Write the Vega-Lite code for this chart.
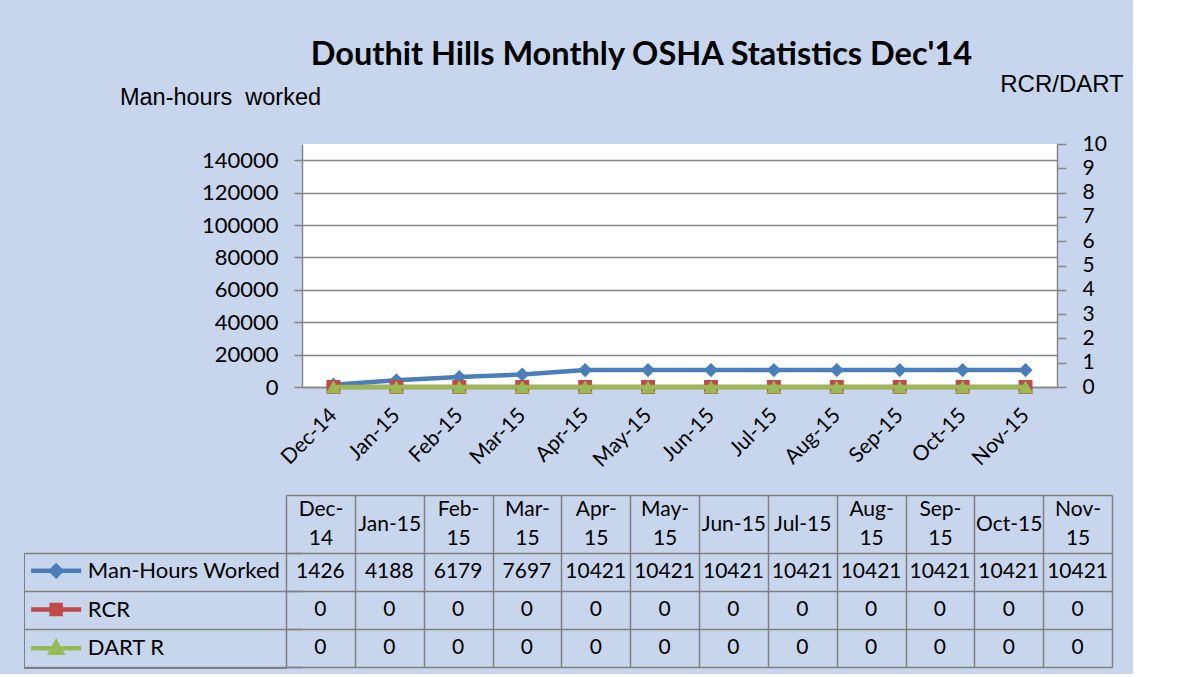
{
  "$schema": "https://vega.github.io/schema/vega-lite/v6.json",
  "background": "#c7d6ec",
  "padding": {"left": 23, "top": 38, "right": 5, "bottom": 5},
  "config": {"font": "Lato", "view": {"stroke": null}},
  "datasets": {
    "osha": [
      {"month": "Dec-14", "series": "Man-Hours Worked", "value": 1426},
      {"month": "Jan-15", "series": "Man-Hours Worked", "value": 4188},
      {"month": "Feb-15", "series": "Man-Hours Worked", "value": 6179},
      {"month": "Mar-15", "series": "Man-Hours Worked", "value": 7697},
      {"month": "Apr-15", "series": "Man-Hours Worked", "value": 10421},
      {"month": "May-15", "series": "Man-Hours Worked", "value": 10421},
      {"month": "Jun-15", "series": "Man-Hours Worked", "value": 10421},
      {"month": "Jul-15", "series": "Man-Hours Worked", "value": 10421},
      {"month": "Aug-15", "series": "Man-Hours Worked", "value": 10421},
      {"month": "Sep-15", "series": "Man-Hours Worked", "value": 10421},
      {"month": "Oct-15", "series": "Man-Hours Worked", "value": 10421},
      {"month": "Nov-15", "series": "Man-Hours Worked", "value": 10421},
      {"month": "Dec-14", "series": "RCR", "value": 0},
      {"month": "Jan-15", "series": "RCR", "value": 0},
      {"month": "Feb-15", "series": "RCR", "value": 0},
      {"month": "Mar-15", "series": "RCR", "value": 0},
      {"month": "Apr-15", "series": "RCR", "value": 0},
      {"month": "May-15", "series": "RCR", "value": 0},
      {"month": "Jun-15", "series": "RCR", "value": 0},
      {"month": "Jul-15", "series": "RCR", "value": 0},
      {"month": "Aug-15", "series": "RCR", "value": 0},
      {"month": "Sep-15", "series": "RCR", "value": 0},
      {"month": "Oct-15", "series": "RCR", "value": 0},
      {"month": "Nov-15", "series": "RCR", "value": 0},
      {"month": "Dec-14", "series": "DART R", "value": 0},
      {"month": "Jan-15", "series": "DART R", "value": 0},
      {"month": "Feb-15", "series": "DART R", "value": 0},
      {"month": "Mar-15", "series": "DART R", "value": 0},
      {"month": "Apr-15", "series": "DART R", "value": 0},
      {"month": "May-15", "series": "DART R", "value": 0},
      {"month": "Jun-15", "series": "DART R", "value": 0},
      {"month": "Jul-15", "series": "DART R", "value": 0},
      {"month": "Aug-15", "series": "DART R", "value": 0},
      {"month": "Sep-15", "series": "DART R", "value": 0},
      {"month": "Oct-15", "series": "DART R", "value": 0},
      {"month": "Nov-15", "series": "DART R", "value": 0}
    ]
  },
  "spacing": 24,
  "resolve": {"legend": {"fill": "independent", "stroke": "independent", "shape": "independent"}},
  "vconcat": [
    {
      "width": 755,
      "height": 243,
      "title": {"text": "Douthit Hills Monthly OSHA Statistics Dec'14", "font": "Lato", "fontSize": 32.5, "fontWeight": "bold", "color": "black", "anchor": "middle", "dx": -38, "offset": 1},
      "view": {"fill": "white", "stroke": null},
      "data": {"name": "osha"},
      "encoding": {
        "x": {
          "field": "month", "type": "ordinal",
          "sort": ["Dec-14","Jan-15","Feb-15","Mar-15","Apr-15","May-15","Jun-15","Jul-15","Aug-15","Sep-15","Oct-15","Nov-15"],
          "scale": {"type": "point", "padding": 0.5},
          "axis": {"orient": "bottom", "title": null, "labelAngle": -45, "labelAlign": "right", "labelBaseline": "middle", "labelFontSize": 21, "labelColor": "black", "labelPadding": 25, "ticks": false, "domainColor": "#868686", "domainWidth": 1.5}
        }
      },
      "layer": [
        {
          "transform": [{"filter": "datum.series === 'Man-Hours Worked'"}],
          "mark": {"type": "line", "color": "#4A7EBB", "strokeWidth": 4.5, "point": {"shape": "diamond", "size": 200, "filled": true, "color": "#4A7EBB"}},
          "encoding": {
            "y": {
              "field": "value", "type": "quantitative",
              "scale": {"domain": [0, 150000], "nice": false},
              "axis": {"orient": "left", "values": [0, 20000, 40000, 60000, 80000, 100000, 120000, 140000], "format": "d",
                "title": "Man-hours\u00a0 worked", "titleAngle": 0, "titleFont": "Liberation Sans", "titleFontSize": 23.5, "titleFontWeight": "normal", "titleColor": "black",
                "titleX": -82, "titleY": -47, "titleAlign": "center", "titleBaseline": "middle",
                "labelFontSize": 22, "labelColor": "black", "labelPadding": 16, "labelOverlap": false, "tickSize": 8, "tickColor": "#868686", "tickWidth": 1.5,
                "domainColor": "#868686", "domainWidth": 1.5, "grid": true, "gridColor": "#868686", "gridWidth": 1.5}
            }
          }
        },
        {
          "encoding": {
            "y": {
              "field": "value", "type": "quantitative",
              "scale": {"domain": [0, 10], "nice": false},
              "axis": {"orient": "right", "values": [0,1,2,3,4,5,6,7,8,9,10], "tickCount": 11,
                "title": "RCR/DART", "titleAngle": 0, "titleFont": "Liberation Sans", "titleFontSize": 24, "titleFontWeight": "normal", "titleColor": "black",
                "titleX": 4.5, "titleY": -60, "titleAlign": "center", "titleBaseline": "middle",
                "labelFontSize": 21, "labelColor": "black", "labelPadding": 16, "labelOverlap": false, "tickSize": 9, "tickColor": "#868686", "tickWidth": 1.5,
                "domainColor": "#868686", "domainWidth": 1.5, "grid": false}
            }
          },
          "layer": [
            {
              "transform": [{"filter": "datum.series === 'RCR'"}],
              "mark": {"type": "line", "color": "#BE4B48", "strokeWidth": 4.5, "point": {"shape": "square", "size": 196, "filled": true, "color": "#BE4B48"}}
            },
            {
              "transform": [{"filter": "datum.series === 'DART R'"}],
              "mark": {"type": "line", "color": "#98B954", "strokeWidth": 4.5, "point": {"shape": "triangle-up", "size": 230, "filled": true, "color": "#98B954"}}
            }
          ]
        }
      ],
      "resolve": {"scale": {"y": "independent"}}
    },
    {
      "width": 810,
      "height": 172,
      "view": {"stroke": null},
      "data": {"name": "osha"},
      "encoding": {
        "x": {
          "field": "month", "type": "ordinal",
          "sort": ["Dec-14","Jan-15","Feb-15","Mar-15","Apr-15","May-15","Jun-15","Jul-15","Aug-15","Sep-15","Oct-15","Nov-15"],
          "scale": {"type": "band", "paddingInner": 0, "paddingOuter": 0, "range": [-16, 810]},
          "axis": {"orient": "top", "title": null, "domain": true, "domainColor": "#808080", "domainWidth": 1.5, "ticks": false,
            "grid": true, "gridColor": "#808080", "gridWidth": 1.5, "tickBand": "extent",
            "labelAngle": 0, "labelAlign": "center", "labelBaseline": "middle",
            "labelPadding": {"condition": {"test": "indexof(['Jan-15','Jun-15','Jul-15','Oct-15'], datum.value) >= 0", "value": -29}, "value": -14},
            "labelFontSize": 21, "labelLineHeight": 29, "labelColor": "black",
            "labelExpr": "!isString(datum.value) ? '' : indexof(['Jan-15','Jun-15','Jul-15','Oct-15'], datum.value) >= 0 ? datum.value : [substring(datum.value, 0, 4), substring(datum.value, 4)]"}
        },
        "y": {
          "field": "series", "type": "nominal",
          "sort": ["Man-Hours Worked", "RCR", "DART R"],
          "scale": {"type": "band", "paddingInner": 0, "paddingOuter": 0.7632, "align": 1},
          "axis": {"orient": "left", "title": null, "labels": false, "domain": false, "ticks": true, "tickSize": 278, "tickColor": "#808080", "tickWidth": 1.5, "tickBand": "extent",
            "grid": true, "gridColor": "#808080", "gridWidth": 1.5}
        }
      },
      "layer": [
        {
          "mark": {"type": "text", "fontSize": 21, "color": "black", "font": "Lato"},
          "encoding": {"text": {"field": "value", "type": "quantitative", "format": "d"}}
        },
        {
          "mark": {"type": "point", "filled": true, "opacity": 0, "strokeWidth": 4.5},
          "encoding": {
            "fill": {"field": "series", "type": "nominal",
              "scale": {"domain": ["Man-Hours Worked", "RCR", "DART R"], "range": ["#4A7EBB", "#BE4B48", "#98B954"]},
              "legend": {"orient": "none", "legendX": -278, "legendY": 58, "title": null, "padding": 5.35, "rowPadding": 10.7,
                "labelFontSize": 22, "labelFont": "Lato", "labelColor": "black", "labelOffset": 19.2, "labelLimit": 400,
                "strokeColor": "#808080", "symbolSize": 400, "symbolStrokeWidth": 4.5, "symbolOpacity": 1, "symbolOffset": 14.3}},
            "stroke": {"field": "series", "type": "nominal",
              "scale": {"domain": ["Man-Hours Worked", "RCR", "DART R"], "range": ["#4A7EBB", "#BE4B48", "#98B954"]}},
            "shape": {"field": "series", "type": "nominal",
              "scale": {"domain": ["Man-Hours Worked", "RCR", "DART R"], "range": [
                "M-2.5,0H2.5M0,-0.5L0.5,0L0,0.5L-0.5,0Z",
                "M-2.5,0H2.5M-0.45,-0.45H0.45V0.45H-0.45Z",
                "M-2.5,0H2.5M0,-0.55L0.55,0.45H-0.55Z"]}}
          }
        }
      ]
    }
  ]
}
